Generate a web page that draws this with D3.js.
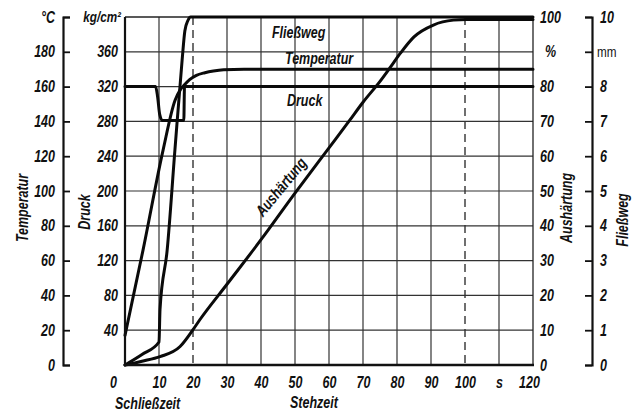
<!DOCTYPE html>
<html><head><meta charset="utf-8">
<script src="https://cdn.jsdelivr.net/npm/d3@7"></script>
<style>
html,body{margin:0;padding:0;background:#fff;}
svg text{font-family:"Liberation Sans",Arial,sans-serif;font-style:italic;font-weight:bold;fill:#111;}
</style></head>
<body><svg id="c" width="641" height="414"></svg>
<script>
// ---- data ----
const timeTicks = [0,10,20,30,40,50,60,70,80,90,100,110,120];
const timeLabels = ["0","10","20","30","40","50","60","70","80","90","100","s","120"];
const tempTicks = [0,20,40,60,80,100,120,140,160,180,200];
const tempLabels = ["0","20","40","60","80","100","120","140","160","180","°C"];
const druckTicks = [40,80,120,160,200,240,280,320,360,400];
const druckLabels = ["40","80","120","160","200","240","280","320","360","kg/cm²"];
const haertTicks = [0,10,20,30,40,50,60,70,80,90,100];
const haertLabels = ["0","10","20","30","40","50","60","70","80","%","100"];
const flowTicks = [0,1,2,3,4,5,6,7,8,9,10];
const flowLabels = ["0","1","2","3","4","5","6","7","8","mm","10"];
const dashedTimes = [20,100];

// Temperatur (°C)
const tempT = [0,5.3,11.2,14.7,16.2,17.5,19,21,23.5,26,29,35,120];
const tempV = [17,66,123.5,152,158,161,164,166.5,168,169,169.7,170,170];
// Druck (kg/cm²)
const druckT = [0,9.0,9.6,10.2,11,17.3,17.5,120];
const druckV = [320,320,308,288,281,281,320,320];
// Fließweg (mm)
const flowT = [0,5,10,10.3,12.4,14.7,16.8,17.6,18.5,19.3,20.5,120];
const flowV = [0,0.3,0.66,1.6,3.3,6.2,8.76,9.6,9.9,10,10,10];
// Aushärtung (%)
const haertT = [0,5,10.3,16.2,19.9,22,30,40,50,60,66,70,75,78,81,85,90.7,96.6,100.5,110,120];
const haertV = [0,1.1,2.4,5.3,10,13,23.2,36,49.4,62.4,70.2,75.5,81.5,85.5,89.6,94.3,97.7,99.1,99.3,99.3,99.3];

// ---- layout ----
const L=125,R=533,T=17,B=365;
const svg=d3.select("#c");
const x=d3.scaleLinear([0,120],[L,R]);
const yT=d3.scaleLinear([0,200],[B,T]);
const yP=d3.scaleLinear([0,400],[B,T]);
const yA=d3.scaleLinear([0,100],[B,T]);
const yF=d3.scaleLinear([0,10],[B,T]);

function condense(sel,f){
  sel.each(function(){
    const n=this.getComputedTextLength();
    if(n>0) d3.select(this).attr("textLength",n*f).attr("lengthAdjust","spacingAndGlyphs");
  });
}

// grid
const grid=svg.append("g").attr("stroke","#333").attr("stroke-width",1.2);
grid.selectAll("line.h").data(tempTicks.filter(d=>d>0&&d<200)).join("line")
  .attr("x1",L).attr("x2",R).attr("y1",d=>yT(d)).attr("y2",d=>yT(d));
grid.selectAll("line.v").data(timeTicks.filter(d=>d>0&&d<120)).join("line")
  .attr("y1",T).attr("y2",B).attr("x1",d=>x(d)).attr("x2",d=>x(d))
  .attr("stroke-dasharray",d=>dashedTimes.includes(d)?"8,5":null)
  .attr("stroke-width",d=>dashedTimes.includes(d)?1.4:1.2);

// borders
svg.append("line").attr("x1",L).attr("x2",R).attr("y1",T).attr("y2",T).attr("stroke","#222").attr("stroke-width",1.3);
svg.append("line").attr("x1",R).attr("x2",R).attr("y1",T).attr("y2",B).attr("stroke","#222").attr("stroke-width",1.3);

// curves
function draw(ts,vs,ys,curve){
  const pts=ts.map((t,i)=>[t,vs[i]]);
  svg.append("path").datum(pts)
    .attr("d",d3.line().x(d=>x(d[0])).y(d=>ys(d[1])).curve(curve))
    .attr("fill","none").attr("stroke","#0a0a0a").attr("stroke-width",3)
    .attr("stroke-linejoin","round").attr("stroke-linecap","round");
}
draw(druckT,druckV,yP,d3.curveMonotoneX);
draw(tempT,tempV,yT,d3.curveMonotoneX);
draw(flowT,flowV,yF,d3.curveMonotoneX);
draw(haertT,haertV,yA,d3.curveMonotoneX);

svg.append("line").attr("x1",L).attr("x2",L).attr("y1",T).attr("y2",B+1).attr("stroke","#111").attr("stroke-width",2.2);
svg.append("line").attr("x1",L-1).attr("x2",R+1).attr("y1",B).attr("y2",B).attr("stroke","#111").attr("stroke-width",2.5);

const fs="16px", CF=0.78;
// Temperatur axis
const gT=svg.append("g").attr("transform",`translate(63,0)`)
  .call(d3.axisLeft(yT).tickValues(tempTicks).tickSize(-7).tickPadding(8)
  .tickFormat((d,i)=>tempLabels[i]));
gT.selectAll("path,line").attr("stroke","#111").attr("stroke-width",1.8);
gT.select("path").attr("stroke-width",2.2);
gT.selectAll("text").style("font-size",fs).attr("fill","#111").call(condense,CF);

// Druck axis
const gP=svg.append("g").attr("transform",`translate(${L},0)`)
  .call(d3.axisLeft(yP).tickValues(druckTicks).tickSize(0).tickPadding(7)
  .tickFormat((d,i)=>druckLabels[i]));
gP.select("path").remove();
gP.selectAll("text").style("font-size",fs).attr("fill","#111");
gP.selectAll("text").filter(d=>d===400).style("font-size","15px").attr("dx",3);
gP.selectAll("text").call(condense,CF);

// Aushärtung axis
const gA=svg.append("g").attr("transform",`translate(${R},0)`)
  .call(d3.axisRight(yA).tickValues(haertTicks).tickSize(0).tickPadding(7)
  .tickFormat((d,i)=>haertLabels[i]));
gA.select("path").remove();
gA.selectAll("text").style("font-size",fs).attr("fill","#111");
gA.selectAll("text").filter(d=>d===90).attr("dx",5);
gA.selectAll("text").call(condense,CF);

// Fließweg axis
const gF=svg.append("g").attr("transform",`translate(592,0)`)
  .call(d3.axisRight(yF).tickValues(flowTicks).tickSize(-7).tickPadding(8)
  .tickFormat((d,i)=>flowLabels[i]));
gF.selectAll("path,line").attr("stroke","#111").attr("stroke-width",1.8);
gF.select("path").attr("stroke-width",2.2);
gF.selectAll("text").style("font-size",fs).attr("fill","#111");
gF.selectAll("text").filter(d=>d===9).style("font-style","normal").style("font-weight","normal").style("font-size","15px").attr("dx",-3);
gF.selectAll("text").call(condense,CF);

// Time axis
const gX=svg.append("g").attr("transform",`translate(0,${B})`)
  .call(d3.axisBottom(x).tickValues(timeTicks).tickSize(0).tickPadding(12)
  .tickFormat((d,i)=>timeLabels[i]));
gX.select("path").remove();
gX.selectAll("text").style("font-size",fs).attr("fill","#111");
gX.selectAll("text").filter(d=>d===0).attr("dx",-12);
gX.selectAll("text").filter(d=>d===120).attr("dx",-4);
gX.selectAll("text").call(condense,CF);

// titles
function vtext(t,cx,cy,ang){
  svg.append("text").attr("transform",`translate(${cx},${cy}) rotate(${ang})`)
    .attr("text-anchor","middle").attr("dominant-baseline","central")
    .style("font-size","16px").text(t).call(condense,CF);
}
vtext("Temperatur",22,208,-90);
vtext("Druck",84,212,-90);
vtext("Aushärtung",566,208,-90);
vtext("Fließweg",622,220,-90);
vtext("Aushärtung",281,187,-50.5);

function htext(t,x0,yb){
  svg.append("text").attr("x",x0).attr("y",yb).style("font-size","16px").text(t).call(condense,CF);
}
htext("Fließweg",272,38);
htext("Temperatur",285,64);
htext("Druck",287,106);
htext("Schließzeit",115,409);
htext("Stehzeit",290,408);
</script></body></html>
